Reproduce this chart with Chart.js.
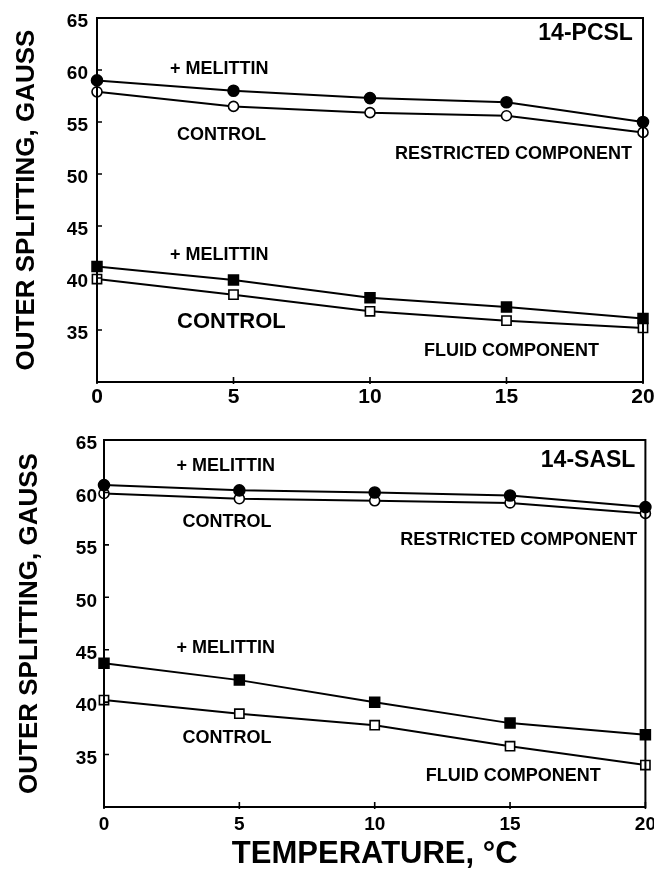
<!DOCTYPE html>
<html>
<head>
<meta charset="utf-8">
<script src="https://cdn.jsdelivr.net/npm/chart.js@4"></script>
<style>
  body { margin: 0; background: #fff; }
  .panel { position: absolute; left: 0; width: 654px; }
  #topPanel { top: 0; height: 410px; }
  #bottomPanel { top: 410px; height: 461px; }
</style>
</head>
<body>
<div class="panel" id="topPanel"><canvas id="pcslChart"></canvas></div>
<div class="panel" id="bottomPanel"><canvas id="saslChart"></canvas></div>
<script>
// --- data ---
const temperatures = [0, 5, 10, 15, 20];
const xTickValues = [0, 5, 10, 15, 20];
const yTickValues = [35, 40, 45, 50, 55, 60, 65];

// 14-PCSL
const pcslRestrictedMelittin = [59.0, 58.0, 57.3, 56.9, 55.0];
const pcslRestrictedControl = [57.9, 56.5, 55.9, 55.6, 54.0];
const pcslFluidMelittin = [41.1, 39.8, 38.1, 37.2, 36.1];
const pcslFluidControl = [39.9, 38.4, 36.8, 35.9, 35.2];

// 14-SASL
const saslRestrictedMelittin = [60.7, 60.2, 60.0, 59.7, 58.6];
const saslRestrictedControl = [59.9, 59.4, 59.2, 59.0, 58.0];
const saslFluidMelittin = [43.7, 42.1, 40.0, 38.0, 36.9];
const saslFluidControl = [40.2, 38.9, 37.8, 35.8, 34.0];

const FONT = '"Liberation Sans", Arial, Helvetica, sans-serif';

// series builder: circles for restricted, squares for fluid
function series(values, style, filled) {
    return {
        data: temperatures.map((t, i) => ({ x: t, y: values[i] })),
        borderColor: '#000',
        borderWidth: 2,
        tension: 0,
        fill: false,
        clip: false,
        pointStyle: style,
        pointRadius: style === 'rect' ? (filled ? 7 : 6.5) : (filled ? 5.5 : 5),
        pointBackgroundColor: filled ? '#000' : '#fff',
        pointBorderColor: '#000',
        pointBorderWidth: 1.6
    };
}

// frame, inward ticks and in-plot labels
const framePlugin = {
    id: 'frame',
    afterDraw: (chart, args, opts) => {
        const { ctx, chartArea: { left, right, top, bottom }, scales: { x, y } } = chart;
        ctx.save();
        ctx.strokeStyle = '#000';
        ctx.lineWidth = 2;
        ctx.strokeRect(left, top, right - left, bottom - top);

        ctx.lineWidth = 1.6;
        ctx.beginPath();
        xTickValues.forEach(v => {
            const px = x.getPixelForValue(v);
            ctx.moveTo(px, bottom + 2);
            ctx.lineTo(px, bottom - 5);
        });
        yTickValues.forEach(v => {
            const py = y.getPixelForValue(v);
            ctx.moveTo(left, py);
            ctx.lineTo(left + 5, py);
        });
        ctx.stroke();

        ctx.fillStyle = '#000';
        ctx.textBaseline = 'middle';
        opts.labels.forEach(l => {
            ctx.font = 'bold ' + l.size + 'px ' + FONT;
            ctx.textAlign = l.align;
            ctx.fillText(l.text, x.getPixelForValue(l.x), y.getPixelForValue(l.y));
        });
        ctx.restore();
    }
};

function makeChart(id, sets, cfg) {
    const ctx = document.getElementById(id).getContext('2d');
    return new Chart(ctx, {
        type: 'line',
        data: { datasets: sets },
        options: {
            responsive: true,
            maintainAspectRatio: false,
            animation: false,
            layout: { padding: { top: cfg.padTop, right: cfg.padRight, left: 0, bottom: 0 } },
            plugins: {
                legend: { display: false },
                tooltip: { enabled: false },
                frame: { labels: cfg.labels }
            },
            scales: {
                x: {
                    type: 'linear',
                    min: 0,
                    max: 20,
                    afterBuildTicks: s => { s.ticks = xTickValues.map(v => ({ value: v })); },
                    afterFit: s => {
                        s.height = cfg.xHeight;
                        s.paddingLeft = 0;
                        s.paddingRight = 0;
                    },
                    grid: { display: false, drawTicks: false },
                    border: { display: false },
                    ticks: {
                        color: '#000',
                        padding: cfg.xTickPad,
                        maxRotation: 0,
                        font: { family: FONT, size: cfg.xTickSize, weight: 'bold' }
                    },
                    title: cfg.xTitle
                },
                y: {
                    min: 30,
                    max: 65,
                    afterBuildTicks: s => { s.ticks = yTickValues.map(v => ({ value: v })); },
                    afterFit: s => {
                        s.width = cfg.yWidth;
                        s.paddingTop = 0;
                        s.paddingBottom = 0;
                    },
                    grid: { display: false, drawTicks: false },
                    border: { display: false },
                    ticks: {
                        color: '#000',
                        padding: cfg.yTickPad,
                        labelOffset: 4,
                        font: { family: FONT, size: 19, weight: 'bold' }
                    },
                    title: {
                        display: true,
                        text: 'OUTER SPLITTING, GAUSS',
                        color: '#000',
                        padding: { top: cfg.yTitlePad, bottom: 0 },
                        font: { family: FONT, size: 26, weight: 'bold', lineHeight: 1 }
                    }
                }
            }
        },
        plugins: [framePlugin]
    });
}

makeChart('pcslChart', [
    series(pcslRestrictedMelittin, 'circle', true),
    series(pcslRestrictedControl, 'circle', false),
    series(pcslFluidMelittin, 'rect', true),
    series(pcslFluidControl, 'rect', false)
], {
    padTop: 18, padRight: 11, yWidth: 97, xHeight: 28,
    xTickPad: 3, xTickSize: 21, yTickPad: 9, yTitlePad: 14,
    xTitle: { display: false },
    labels: [
        { text: '14-PCSL', x: 19.63, y: 63.45, align: 'right', size: 23 },
        { text: '+ MELITTIN', x: 2.67, y: 60.05, align: 'left', size: 18 },
        { text: 'CONTROL', x: 2.93, y: 53.75, align: 'left', size: 18 },
        { text: 'RESTRICTED COMPONENT', x: 19.6, y: 51.95, align: 'right', size: 18 },
        { text: '+ MELITTIN', x: 2.67, y: 42.2, align: 'left', size: 18 },
        { text: 'CONTROL', x: 2.93, y: 35.8, align: 'left', size: 22 },
        { text: 'FLUID COMPONENT', x: 18.39, y: 33.0, align: 'right', size: 18 }
    ]
});

makeChart('saslChart', [
    series(saslRestrictedMelittin, 'circle', true),
    series(saslRestrictedControl, 'circle', false),
    series(saslFluidMelittin, 'rect', true),
    series(saslFluidControl, 'rect', false)
], {
    padTop: 30, padRight: 5, yWidth: 104, xHeight: 64,
    xTickPad: 6, xTickSize: 19, yTickPad: 7, yTitlePad: 17,
    xTitle: {
        display: true,
        text: 'TEMPERATURE, °C',
        color: '#000',
        padding: { top: 0, bottom: 1 },
        font: { family: FONT, size: 31, weight: 'bold', lineHeight: 1 }
    },
    labels: [
        { text: '14-SASL', x: 19.63, y: 63.05, align: 'right', size: 23 },
        { text: '+ MELITTIN', x: 2.68, y: 62.47, align: 'left', size: 18 },
        { text: 'CONTROL', x: 2.9, y: 57.18, align: 'left', size: 18 },
        { text: 'RESTRICTED COMPONENT', x: 19.7, y: 55.47, align: 'right', size: 18 },
        { text: '+ MELITTIN', x: 2.68, y: 45.12, align: 'left', size: 18 },
        { text: 'CONTROL', x: 2.9, y: 36.54, align: 'left', size: 18 },
        { text: 'FLUID COMPONENT', x: 18.35, y: 32.92, align: 'right', size: 18 }
    ]
});
</script>
</body>
</html>
